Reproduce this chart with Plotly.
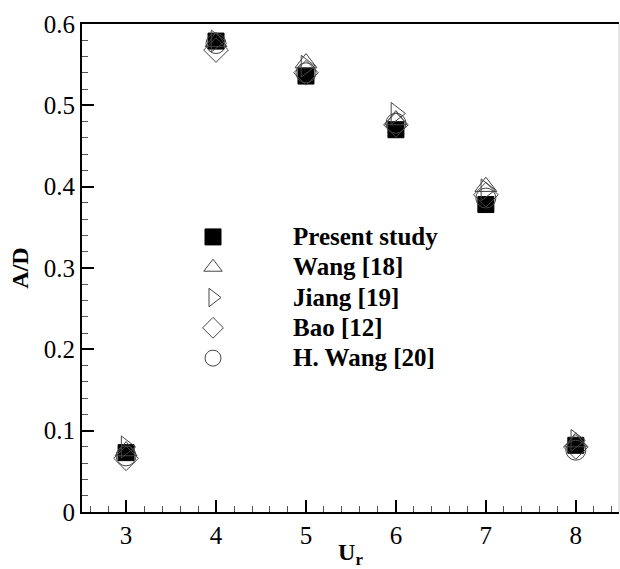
import plotly.graph_objects as go

# Reduced velocity values
ur = [3, 4, 5, 6, 7, 8]

# Amplitude ratio A/D for each data source
present_study = [0.073, 0.579, 0.536, 0.470, 0.378, 0.082]
wang_18 = [0.075, 0.578, 0.552, 0.482, 0.400, 0.086]
jiang_19 = [0.080, 0.579, 0.548, 0.490, 0.396, 0.088]
bao_12 = [0.066, 0.568, 0.540, 0.476, 0.390, 0.080]
h_wang_20 = [0.069, 0.576, 0.540, 0.478, 0.386, 0.076]

x_ticks = [3, 4, 5, 6, 7, 8]
y_ticks = [0, 0.1, 0.2, 0.3, 0.4, 0.5, 0.6]
y_tick_labels = ["0", "0.1", "0.2", "0.3", "0.4", "0.5", "0.6"]

SERIF = "Liberation Serif, Times New Roman, serif"

series = [
    ("Present study", present_study, "square", 16, "black", 1.0),
    ("Wang [18]", wang_18, "triangle-up-open", 19, "#444", 1.0),
    ("Jiang [19]", jiang_19, "triangle-right-open", 19, "#444", 1.0),
    ("Bao [12]", bao_12, "diamond-open", 19, "#444", 1.0),
    ("H. Wang [20]", h_wang_20, "circle-open", 20, "#444", 1.0),
]

fig = go.Figure()
for name, vals, sym, size, col, lw in series:
    fig.add_trace(go.Scatter(
        x=ur, y=vals, mode="markers",
        name=f'<span style="font-size:25px">{name}</span>',
        marker=dict(symbol=sym, size=size, color=col,
                    line=dict(color=col, width=lw)),
    ))

axis_common = dict(
    showgrid=False, zeroline=False,
    showline=True, linecolor="black", linewidth=2,
    ticks="inside", tickcolor="black", tickwidth=2, ticklen=12,
    tickfont=dict(family=SERIF, size=25, color="black"),
)

fig.update_xaxes(
    range=[2.51, 8.48], tickvals=x_ticks, mirror=True,
    minor=dict(dtick=0.2, ticks="inside", ticklen=6, tickwidth=1, tickcolor="#555"),
    title=dict(text="<b>U<sub>r</sub></b>", font=dict(family=SERIF, size=24, color="black"), standoff=2),
    **axis_common,
)
fig.update_yaxes(
    range=[0, 0.6], tickvals=y_ticks, ticktext=y_tick_labels,
    minor=dict(dtick=0.02, ticks="inside", ticklen=6, tickwidth=1, tickcolor="#555"),
    title=dict(text="<b>A/D</b>", font=dict(family=SERIF, size=24, color="black"), standoff=8),
    **axis_common,
)

# faint right-hand frame edge
fig.add_shape(type="line", xref="paper", yref="paper", x0=1, x1=1, y0=0, y1=1,
              line=dict(color="#cccccc", width=1))

fig.update_layout(
    width=620, height=569,
    margin=dict(l=82, r=1, t=24, b=57),
    plot_bgcolor="white", paper_bgcolor="white",
    legend=dict(
        x=0.095, y=0.605, xanchor="left", yanchor="top",
        font=dict(family=SERIF, size=21, color="black", weight="bold"),
        itemwidth=150, bgcolor="rgba(0,0,0,0)", tracegroupgap=0,
    ),
)

fig.write_html("out.html")
